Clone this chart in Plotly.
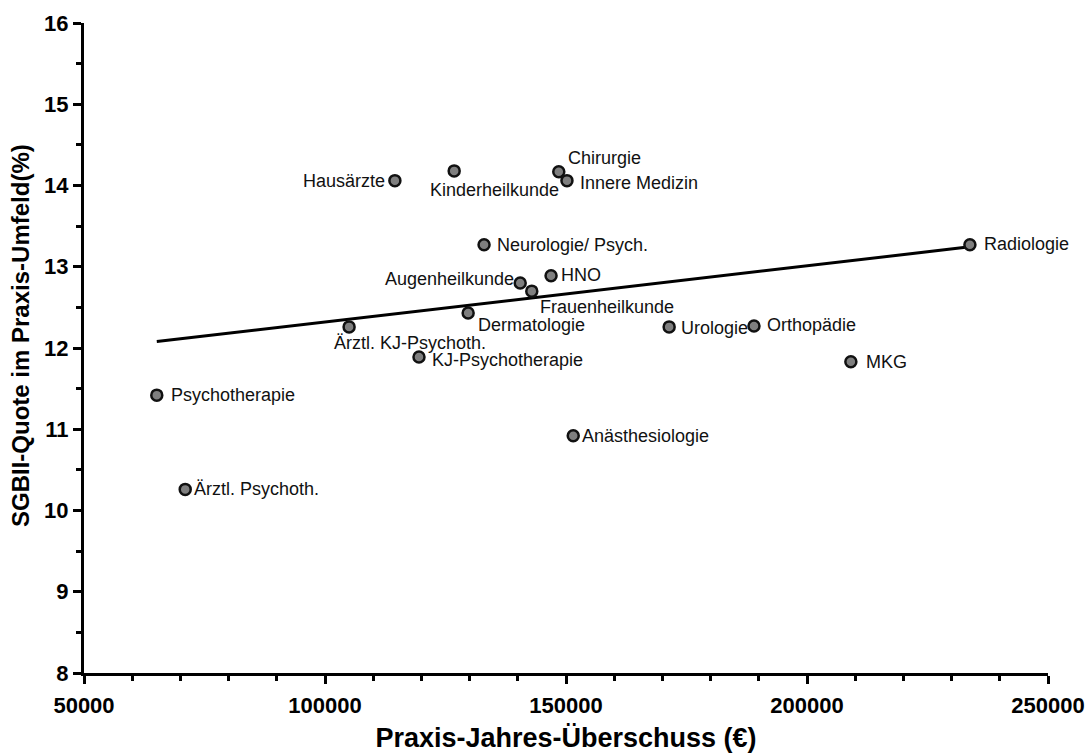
import numpy as np
import plotly.graph_objects as go

# Fachgruppen, Praxis-Jahresüberschuss (€) und SGB-II-Quote im Umfeld (%)
fachgruppen = [
    "Hausärzte", "Kinderheilkunde", "Chirurgie", "Innere Medizin",
    "Neurologie/ Psych.", "Augenheilkunde", "Frauenheilkunde", "HNO",
    "Dermatologie", "Ärztl. KJ-Psychoth.", "KJ-Psychotherapie", "Urologie",
    "Orthopädie", "MKG", "Radiologie", "Psychotherapie", "Ärztl. Psychoth.",
    "Anästhesiologie",
]
ueberschuss = [
    114500, 126800, 148500, 150200,
    133000, 140500, 142900, 146900,
    129700, 105000, 119500, 171400,
    189000, 209100, 233800, 65100, 71000,
    151500,
]
sgb2_quote = [
    14.06, 14.18, 14.17, 14.06,
    13.27, 12.80, 12.70, 12.89,
    12.43, 12.26, 11.89, 12.26,
    12.27, 11.83, 13.27, 11.42, 10.26,
    10.92,
]

# label placement per point: (xanchor, xshift px, yshift px)
label_pos = [
    ("right", -8, 0), ("left", -26, -19), ("left", 7, 14), ("left", 11, -2),
    ("left", 11, 0), ("right", -4, 4), ("left", 6, -16), ("left", 8, 1),
    ("left", 8, -12), ("left", -17, -16), ("left", 11, -3), ("left", 10, -1),
    ("left", 11, 1), ("left", 13, 0), ("left", 12, 1), ("left", 12, 0),
    ("left", 7, 0), ("left", 7, 0),
]

x_ticks = [50000, 100000, 150000, 200000, 250000]
y_ticks = [8, 9, 10, 11, 12, 13, 14, 15, 16]

FONT = "Liberation Sans, Arial, sans-serif"

x = np.array(ueberschuss, dtype=float)
y = np.array(sgb2_quote, dtype=float)
slope, intercept = np.polyfit(x, y, 1)
fit_x = np.array([x.min(), x.max()])
fit_y = slope * fit_x + intercept

fig = go.Figure()
fig.add_trace(go.Scatter(
    x=fit_x, y=fit_y, mode="lines",
    line=dict(color="black", width=3), hoverinfo="skip", showlegend=False,
))
fig.add_trace(go.Scatter(
    x=x, y=y, mode="markers",
    marker=dict(size=11, color="#7f7f7f", line=dict(color="#111111", width=2.5)),
    showlegend=False,
))

for name, xv, yv, (anchor, dx, dy) in zip(fachgruppen, x, y, label_pos):
    fig.add_annotation(
        x=xv, y=yv, text=name, showarrow=False,
        xanchor=anchor, yanchor="middle", xshift=dx, yshift=dy,
        font=dict(family=FONT, size=18, color="#111111"),
    )

# y-axis title, placed as a rotated annotation left of the tick labels
fig.add_annotation(
    text="<b>SGBII-Quote im Praxis-Umfeld(%)</b>",
    xref="paper", yref="paper", x=(20 - 84) / 964, y=(673 - 336) / 650,
    xanchor="center", yanchor="middle", textangle=-90, showarrow=False,
    font=dict(family=FONT, size=24, color="black"),
)

tick_font = dict(family=FONT, size=22, color="black", weight="bold")

fig.update_xaxes(
    range=[50000, 250000], tickvals=x_ticks, ticktext=[str(v) for v in x_ticks],
    showline=True, linecolor="black", linewidth=3, mirror=False,
    ticks="outside", ticklen=8, tickwidth=3, tickcolor="black",
    minor=dict(dtick=10000, tick0=50000, ticks="outside", ticklen=5, tickwidth=2.5, tickcolor="black"),
    showgrid=False, zeroline=False, automargin=False,
    tickfont=tick_font, ticklabelstandoff=3,
    title=dict(text="<b>Praxis-Jahres-Überschuss (€)</b>",
               font=dict(family=FONT, size=27, color="black"),
               standoff=12),
)
fig.update_yaxes(
    range=[8, 16], tickvals=y_ticks, ticktext=[str(v) for v in y_ticks],
    showline=True, linecolor="black", linewidth=3, mirror=False,
    ticks="outside", ticklen=8, tickwidth=3, tickcolor="black",
    minor=dict(dtick=0.5, tick0=8, ticks="outside", ticklen=5, tickwidth=2.5, tickcolor="black"),
    showgrid=False, zeroline=False, automargin=False,
    tickfont=tick_font,
)

fig.update_layout(
    width=1090, height=753,
    margin=dict(l=84, r=42, t=23, b=80),
    plot_bgcolor="white", paper_bgcolor="white",
    showlegend=False,
)

fig.write_html("out.html")
